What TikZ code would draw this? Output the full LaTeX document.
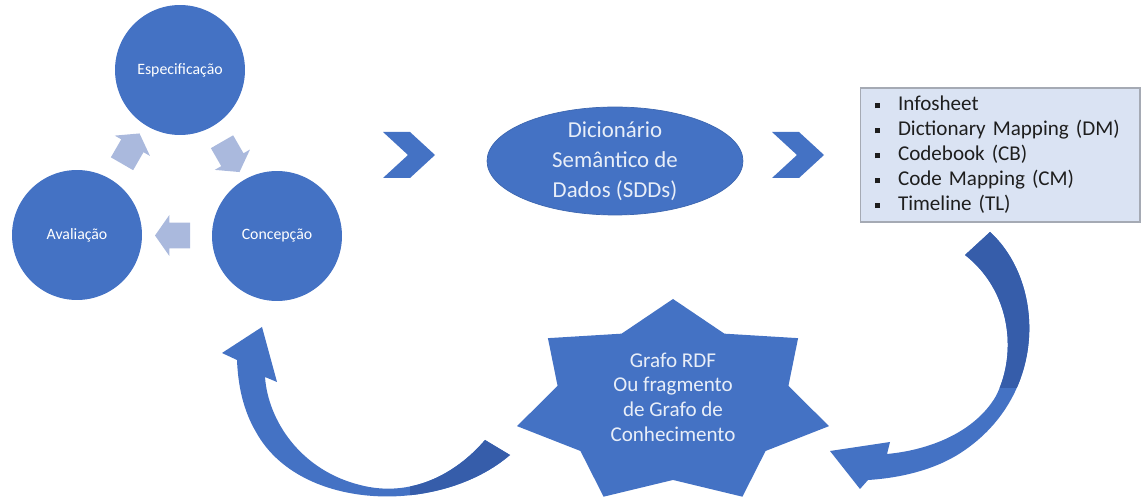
\documentclass[tikz,border=0pt]{standalone}
\usepackage{fontspec}
\setmainfont{Carlito}
\usetikzlibrary{positioning, shapes.geometric, shapes.arrows, calc}

\definecolor{diagblue}{RGB}{68,114,196}
\definecolor{bandback}{RGB}{54,93,170}
\definecolor{cyclegray}{RGB}{170,185,221}
\definecolor{listfill}{RGB}{218,227,243}
\definecolor{listdraw}{RGB}{165,170,180}
\definecolor{listtext}{RGB}{30,30,30}
\definecolor{lighttext}{RGB}{232,238,248}

\newcommand{\artitem}[1]{\hspace*{0.29cm}\makebox[0.47cm][l]{\rule[0.12em]{3pt}{3pt}}#1}

\tikzset{
  phase/.style={circle, fill=diagblue, minimum size=2.6cm, inner sep=0pt,
    text=white, font=\fontsize{9}{11}\selectfont},
  cyclearr/.style={single arrow, fill=cyclegray, minimum height=0.7cm,
    inner xsep=0pt, inner ysep=0.25cm, single arrow head extend=0.15cm,
    single arrow tip angle=110},
  oval/.style={ellipse, fill=diagblue, draw=diagblue!90!black, line width=0.4pt,
    minimum width=5.12cm, minimum height=2.16cm, inner sep=0pt},
  bigtext/.style={align=center, text=lighttext, inner sep=0pt},
  listbox/.style={rectangle, fill=listfill, draw=listdraw, line width=0.6pt,
    minimum width=5.6cm, minimum height=2.68cm, text width=5.6cm, inner sep=0pt,
    align=left, text=listtext, font=\fontsize{12}{14.2}\selectfont},
  chevron/.style={fill=diagblue},
  band/.style={fill=diagblue},
  bandshade/.style={fill=bandback}
}

\begin{document}
\begin{tikzpicture}[x=0.02cm, y=-0.02cm]
  \useasboundingbox (0,0) rectangle (1143,502);

  % cycle of phases
  \node[phase] (espec) at (180,70) {Especificação};
  \node[phase] (aval) at (77,235) {Avaliação};
  \node[phase] (conc) at (277,236) {Concepção};

  \node[cyclearr, rotate=60] (avalespec) at ($(aval)!0.5!(espec)$) {};
  \node[cyclearr, rotate=-60] (especconc) at ($(espec)!0.5!(conc)$) {};
  \node[cyclearr, rotate=180] (concaval) at ($(conc)!0.5!(aval)$) {};

  % chevrons
  \foreach \cx in {383,772}
    \fill[chevron, shift={(\cx,132)}] (0,0) -- (27,0) -- (52,23) -- (27,46) -- (0,46) -- (25,23) -- cycle;

  % semantic data dictionary
  \node[oval] (sdd) at (615,161) {};
  \node[bigtext, font=\fontsize{13}{17}\selectfont] (sddtext) at (sdd.center)
    {Dicionário\\Semântico de\\Dados (SDDs)};

  % artefacts
  \node[listbox] (artefatos) at (1000,155)
    {\artitem{Infosheet}\\ \artitem{Dictionary Mapping (DM)}\\ \artitem{Codebook (CB)}\\
     \artitem{Code Mapping (CM)}\\ \artitem{Timeline (TL)}};

  % knowledge graph star
  \fill[diagblue] plot[samples at={0,...,13}, variable=\k]
    ({673 + 160*(1-0.26*mod(\k,2))*cos(90+\k*360/14)},
     {403 - 104*(1-0.26*mod(\k,2))*sin(90+\k*360/14)}) -- cycle;
  \node[bigtext, font=\fontsize{12}{14}\selectfont] (grafo) at (673,397)
    {Grafo RDF\\Ou fragmento\\de Grafo de\\Conhecimento};

  % curved arrows
  \def\rightband{(990,232) .. controls (1045,282) and (1048,395) .. (962,452)
    .. controls (935,470) and (900,478) .. (868,480) -- (860,489) -- (830,451)
    -- (890,442) -- (887,454) .. controls (930,450) and (975,432) .. (996,396)
    .. controls (1018,352) and (1010,290) .. (965,255) -- cycle}
  \def\leftband{(510,455) .. controls (440,515) and (300,512) .. (256,432)
    .. controls (243,410) and (238,385) .. (237,360) -- (222,353) -- (262,327)
    -- (277,382) -- (265,377) .. controls (268,420) and (300,470) .. (360,485)
    .. controls (410,498) and (455,475) .. (485,440) -- cycle}
  \fill[band] \rightband;
  \begin{scope}
    \clip (900,200) rectangle (1100,388);
    \fill[bandshade] \rightband;
  \end{scope}
  \fill[band] \leftband;
  \begin{scope}
    \clip (410,400) rectangle (530,510);
    \fill[bandshade] \leftband;
  \end{scope}
\end{tikzpicture}
\end{document}
